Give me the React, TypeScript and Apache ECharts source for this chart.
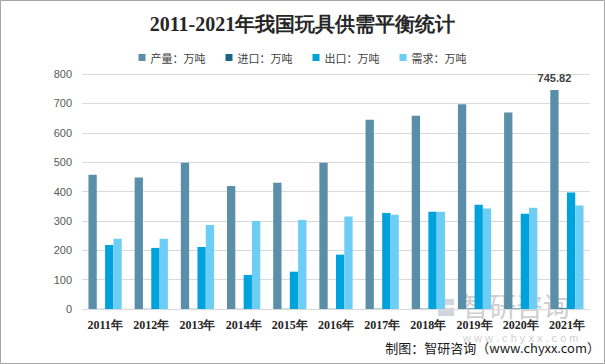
import React, { useEffect, useRef } from "react";
import * as echarts from "echarts";

const years = ["2011年", "2012年", "2013年", "2014年", "2015年", "2016年", "2017年", "2018年", "2019年", "2020年", "2021年"];
const production = [457, 448, 498, 419, 430, 498, 644, 658, 697, 669, 745.82];
const imports = [0.5, 0.5, 0.6, 0.6, 0.7, 0.8, 1.0, 1.2, 1.5, 1.8, 2.6];
const exports = [218, 208, 211, 116, 127, 185, 327, 331, 355, 324, 397];
const demand = [239, 239, 286, 300, 303, 315, 321, 331, 342, 345, 352];
const seriesNames = ["产量：万吨", "进口：万吨", "出口：万吨", "需求：万吨"];
const yTicks = { min: 0, max: 800, interval: 100 };

const colors = ["#5b8fa9", "#1a6587", "#00a2dc", "#6ccef5"];

export default function App() {
  const ref = useRef<HTMLDivElement>(null);
  useEffect(() => {
    if (!ref.current) return;
    const chart = echarts.init(ref.current, undefined, { renderer: "svg" });
    const data = [production, imports, exports, demand];
    chart.setOption({
      animation: false,
      backgroundColor: "#ffffff",
      title: {
        text: "2011-2021年我国玩具供需平衡统计",
        left: "center",
        top: 9,
        textStyle: {
          fontFamily: "Liberation Serif, serif",
          fontSize: 20,
          fontWeight: "bold",
          color: "#262626",
        },
      },
      legend: {
        top: 47,
        left: "center",
        itemWidth: 7,
        itemHeight: 7,
        itemGap: 20,
        icon: "rect",
        textStyle: { fontSize: 11, color: "#404040", fontFamily: "Noto Sans CJK SC, sans-serif" },
        data: seriesNames,
      },
      grid: { left: 82, right: 15, top: 74, bottom: 55, containLabel: false },
      xAxis: {
        type: "category",
        data: years,
        axisLine: { lineStyle: { color: "#d9d9d9" } },
        axisTick: { show: false },
        axisLabel: {
          fontFamily: "Liberation Serif, serif",
          fontWeight: "bold",
          fontSize: 12,
          color: "#262626",
          margin: 10,
          interval: 0,
        },
      },
      yAxis: {
        type: "value",
        min: yTicks.min,
        max: yTicks.max,
        interval: yTicks.interval,
        axisLine: { show: false },
        axisTick: { show: false },
        axisLabel: { fontSize: 11, color: "#595959", margin: 10, fontFamily: "Liberation Sans, sans-serif" },
        splitLine: { lineStyle: { color: "#d9d9d9" } },
      },
      series: seriesNames.map((name, i) => ({
        name,
        type: "bar",
        data: data[i].map((v, j) =>
          i === 0 && j === data[i].length - 1
            ? {
                value: v,
                label: {
                  show: true,
                  position: "top",
                  formatter: "{c}",
                  fontSize: 11,
                  fontWeight: "bold",
                  color: "#404040",
                  distance: 6,
                },
              }
            : v
        ),
        itemStyle: { color: colors[i] },
        barGap: "0%",
        barCategoryGap: "28%",
        z: 3,
      })),
      graphic: [
        {
          type: "rect",
          z: 0,
          silent: true,
          shape: { x: 0.5, y: 0.5, width: 604, height: 363 },
          style: { fill: "none", stroke: "#a6a6a6", lineWidth: 1 },
        },
        {
          type: "group",
          z: 1,
          silent: true,
          children: [
            {
              type: "rect",
              shape: { x: 438, y: 299, width: 16, height: 6 },
              style: { fill: "#cfd6dd" },
            },
            {
              type: "rect",
              shape: { x: 438, y: 308, width: 16, height: 8 },
              style: { fill: "#cfd6dd" },
            },
            {
              type: "text",
              x: 462,
              y: 292,
              style: {
                text: "智研咨询",
                fontSize: 27,
                fontFamily: "Noto Sans CJK SC, sans-serif",
                fill: "rgba(190,190,190,0.75)",
              },
            },
            {
              type: "text",
              x: 463,
              y: 332,
              style: {
                text: "w w w . c h y x x . c o m",
                fontSize: 11,
                fontFamily: "Liberation Sans, sans-serif",
                fill: "rgba(195,195,195,0.8)",
              },
            },
          ],
        },
        {
          type: "text",
          right: 5,
          top: 341,
          z: 10,
          style: {
            text: "制图：智研咨询（www.chyxx.com）",
            fontSize: 13,
            fontFamily: "Noto Sans CJK SC, sans-serif",
            fill: "#1a1a1a",
          },
        },
      ],
    });
    return () => chart.dispose();
  }, []);
  return (
    <div
      ref={ref}
      style={{ position: "fixed", left: 0, top: 0, width: 605, height: 364 }}
    />
  );
}
